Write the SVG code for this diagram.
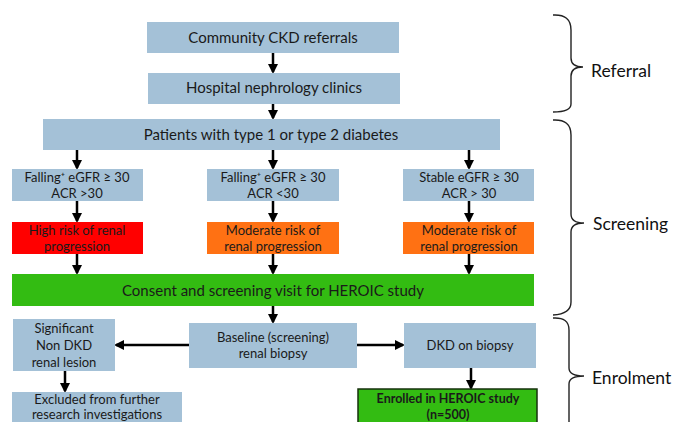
<svg xmlns="http://www.w3.org/2000/svg" width="675" height="422" viewBox="0 0 675 422">
<defs>
<marker id="ah" markerWidth="4" markerHeight="4" refX="3.2" refY="2" orient="auto" markerUnits="strokeWidth">
<path d="M0,0 L4,2 L0,4 Z" fill="#000"/>
</marker>
<style>
.b{fill:#A4C1D7;}
.r{fill:#FF0000;}
.o{fill:#FF7113;}
.g{fill:#33BC12;}
.t{font-family:Lato,"Open Sans",sans-serif;fill:#1a1a1a;text-anchor:middle;}
.t15{font-size:15px;}
.t13{font-size:13px;}
.lab{font-family:Lato,"Open Sans",sans-serif;font-size:17.5px;fill:#111;}
.c{stroke:#000;stroke-width:2.5;fill:none;}
.ca{stroke:#000;stroke-width:2.5;fill:none;marker-end:url(#ah);}
.br{stroke:#222;stroke-width:1.4;fill:none;}
</style>
</defs>
<rect width="675" height="422" fill="#fff"/>
<g id="connectors">
<line class="ca" x1="273" y1="53" x2="273" y2="72"/>
<line class="ca" x1="273" y1="104" x2="273" y2="118"/>
<line class="ca" x1="77" y1="150" x2="77" y2="168"/>
<line class="ca" x1="273" y1="150" x2="273" y2="168"/>
<line class="ca" x1="469" y1="150" x2="469" y2="168"/>
<line class="ca" x1="77" y1="201" x2="77" y2="221"/>
<line class="ca" x1="273" y1="201" x2="273" y2="221"/>
<line class="ca" x1="469" y1="201" x2="469" y2="221"/>
<line class="ca" x1="77" y1="254" x2="77" y2="273"/>
<line class="ca" x1="273" y1="254" x2="273" y2="273"/>
<line class="ca" x1="469" y1="254" x2="469" y2="273"/>
<line class="ca" x1="273" y1="306" x2="273" y2="322"/>
<line class="ca" x1="189" y1="345" x2="116" y2="345"/>
<line class="ca" x1="357" y1="345" x2="403" y2="345"/>
<line class="ca" x1="65" y1="371" x2="65" y2="391"/>
<line class="ca" x1="471" y1="368" x2="471" y2="388"/>
</g>
<g id="n1"><rect class="b" x="147" y="22" width="252" height="31"/><text class="t t15" x="273" y="43">Community CKD referrals</text></g>
<g id="n2"><rect class="b" x="148" y="73" width="252" height="31"/><text class="t t15" x="274" y="93">Hospital nephrology clinics</text></g>
<g id="n3"><rect class="b" x="43" y="119" width="457" height="31"/><text class="t t15" x="271" y="140">Patients with type 1 or type 2 diabetes</text></g>
<g id="n4"><rect class="b" x="12" y="169" width="131" height="32"/><text class="t t13" x="77" y="182">Falling⁺ eGFR ≥ 30</text><text class="t t13" x="77" y="198">ACR &gt;30</text></g>
<g id="n5"><rect class="b" x="207" y="169" width="132" height="32"/><text class="t t13" x="273" y="182">Falling⁺ eGFR ≥ 30</text><text class="t t13" x="273" y="198">ACR &lt;30</text></g>
<g id="n6"><rect class="b" x="403" y="169" width="131" height="32"/><text class="t t13" x="469" y="182">Stable eGFR ≥ 30</text><text class="t t13" x="469" y="198">ACR &gt; 30</text></g>
<g id="n7"><rect class="r" x="12" y="222" width="131" height="32"/><text class="t t13" x="77" y="235">High risk of renal</text><text class="t t13" x="77" y="251">progression</text></g>
<g id="n8"><rect class="o" x="207" y="222" width="132" height="32"/><text class="t t13" x="273" y="235">Moderate risk of</text><text class="t t13" x="273" y="251">renal progression</text></g>
<g id="n9"><rect class="o" x="403" y="222" width="131" height="32"/><text class="t t13" x="469" y="235">Moderate risk of</text><text class="t t13" x="469" y="251">renal progression</text></g>
<g id="n10"><rect class="g" x="12" y="274" width="522" height="32"/><text class="t t15" x="273" y="296">Consent and screening visit for HEROIC study</text></g>
<g id="n11"><rect class="b" x="189" y="323" width="168" height="45"/><text class="t t13" x="273" y="342">Baseline (screening)</text><text class="t t13" x="273" y="358">renal biopsy</text></g>
<g id="n12"><rect class="b" x="13" y="319" width="102" height="52"/><text class="t t13" x="64" y="333">Significant</text><text class="t t13" x="64" y="350">Non DKD</text><text class="t t13" x="64" y="367">renal lesion</text></g>
<g id="n13"><rect class="b" x="12" y="392" width="170" height="35"/><text class="t t13" x="97" y="404">Excluded from further</text><text class="t t13" x="97" y="419">research investigations</text></g>
<g id="n14"><rect class="b" x="404" y="323" width="132" height="45"/><text class="t t13" x="470" y="350">DKD on biopsy</text></g>
<g id="n15"><rect x="358" y="389" width="179" height="40" fill="#33BC12" stroke="#16300c" stroke-width="1.5"/><text class="t" x="448" y="403" font-size="12.5" font-weight="bold">Enrolled in HEROIC study</text><text class="t" x="448" y="419" font-size="12.5" font-weight="bold">(n=500)</text></g>
<g id="braces">
<path class="br" d="M553,15 Q571,14 571,30 L571,58 Q571,67 583,67 Q571,67 571,76 L571,104 Q571,112 553,112"/>
<path class="br" d="M553,120 Q571,119 571,135 L571,214 Q571,223 584,223 Q571,223 571,232 L571,302 Q571,314 553,315"/>
<path class="br" d="M553,318 Q569,317 569,330 L569,368 Q569,376 584,376 Q569,376 569,384 L569,430"/>
<text class="lab" x="591" y="77">Referral</text>
<text class="lab" x="593" y="230">Screening</text>
<text class="lab" x="592" y="384">Enrolment</text>
</g>
</svg>
